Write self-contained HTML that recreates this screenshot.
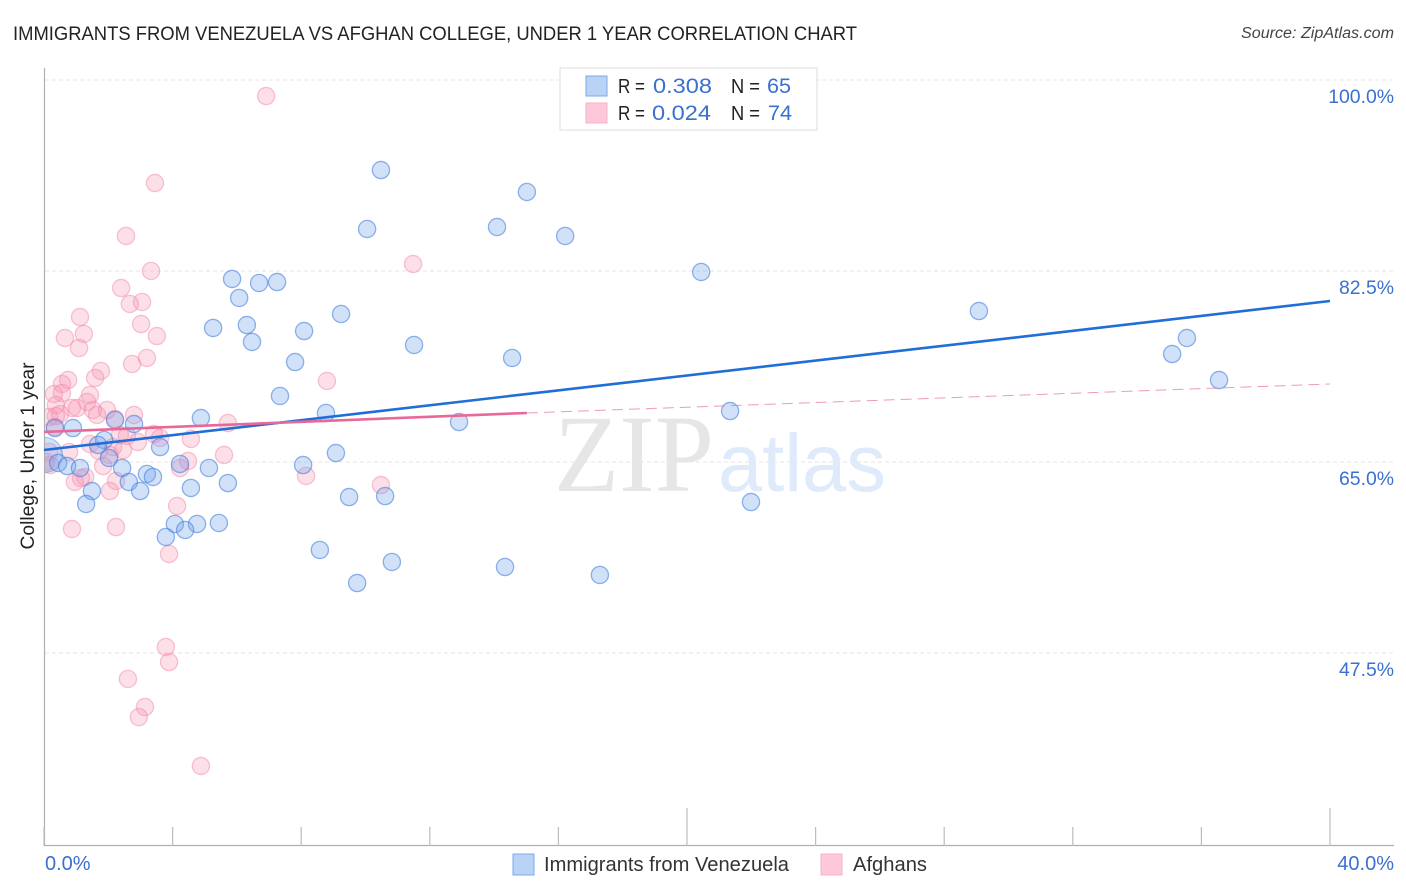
<!DOCTYPE html>
<html lang="en">
<head>
<meta charset="utf-8">
<title>Immigrants from Venezuela vs Afghan College, Under 1 Year Correlation Chart</title>
<style>
html,body{margin:0;padding:0;background:#fff;}
svg{display:block;font-family:"Liberation Sans",sans-serif;}
</style>
</head>
<body>
<svg id="chart" xmlns="http://www.w3.org/2000/svg" width="1406" height="892" viewBox="0 0 1406 892">
  <defs>
    <clipPath id="plot-clip"><rect x="45" y="68" width="1349" height="778"/></clipPath>
  </defs>
  <rect x="0" y="0" width="1406" height="892" fill="#ffffff"/>
  <text x="13" y="40" font-size="19.5" fill="#222222" textLength="844" lengthAdjust="spacingAndGlyphs">IMMIGRANTS FROM VENEZUELA VS AFGHAN COLLEGE, UNDER 1 YEAR CORRELATION CHART</text>
  <text x="1241" y="38" font-size="15.5" font-style="italic" fill="#444444" textLength="153" lengthAdjust="spacingAndGlyphs">Source: ZipAtlas.com</text>
  <g id="grid"></g>
  <g>
    <text x="554" y="491" font-family="'Liberation Serif',serif" font-size="110" fill="#e6e6e6" textLength="160" lengthAdjust="spacingAndGlyphs">ZIP</text>
    <text x="718" y="491" font-size="82" fill="#dfeafa" textLength="168" lengthAdjust="spacingAndGlyphs">atlas</text>
  </g>
  <g id="axes"></g>
  <g id="pink-points" clip-path="url(#plot-clip)"></g>
  <g id="blue-points" clip-path="url(#plot-clip)"></g>
  <g id="trends"></g>
  <text transform="translate(34,456) rotate(-90)" font-size="19" fill="#222222" text-anchor="middle" textLength="187" lengthAdjust="spacingAndGlyphs">College, Under 1 year</text>
  <g>
    <rect x="560" y="68" width="257" height="62" fill="#ffffff" stroke="#dddddd" stroke-width="1"/>
    <rect x="586" y="76" width="21" height="20" fill="#b9d3f6" stroke="#7fa9e6" stroke-width="1"/>
    <rect x="586" y="103" width="21" height="20" fill="#fdc9da" stroke="#f6b1c9" stroke-width="1"/>
    <g font-size="20" fill="#222222">
      <text x="618" y="93" textLength="27" lengthAdjust="spacingAndGlyphs">R =</text>
      <text x="653" y="93" fill="#3a70d0" font-size="21.5" textLength="59" lengthAdjust="spacingAndGlyphs">0.308</text>
      <text x="731" y="93" textLength="29" lengthAdjust="spacingAndGlyphs">N =</text>
      <text x="767" y="93" fill="#3a70d0" font-size="21.5" textLength="24" lengthAdjust="spacingAndGlyphs">65</text>
      <text x="618" y="120" textLength="27" lengthAdjust="spacingAndGlyphs">R =</text>
      <text x="652" y="120" fill="#3a70d0" font-size="21.5" textLength="59" lengthAdjust="spacingAndGlyphs">0.024</text>
      <text x="731" y="120" textLength="29" lengthAdjust="spacingAndGlyphs">N =</text>
      <text x="768" y="120" fill="#3a70d0" font-size="21.5" textLength="24" lengthAdjust="spacingAndGlyphs">74</text>
    </g>
  </g>
  <g>
    <rect x="513" y="854" width="21" height="21" fill="#b9d3f6" stroke="#7fa9e6" stroke-width="1"/>
    <text x="544" y="871" font-size="20" fill="#333333" textLength="245" lengthAdjust="spacingAndGlyphs">Immigrants from Venezuela</text>
    <rect x="821" y="854" width="21" height="21" fill="#fdc9da" stroke="#f6b1c9" stroke-width="1"/>
    <text x="853" y="871" font-size="20" fill="#333333" textLength="74" lengthAdjust="spacingAndGlyphs">Afghans</text>
  </g>
</svg>
<script>
const yTickValues = [100, 82.5, 65, 47.5];
const yTickLabels = ["100.0%", "82.5%", "65.0%", "47.5%"];
const xTickValues = [0, 4, 8, 12, 16, 20, 24, 28, 32, 36, 40];
const xEndValues = [0, 40];
const xEndLabels = ["0.0%", "40.0%"];

const venezuelaX = [10.48,15.02,10.05,14.09,16.21,20.44,5.85,6.69,7.25,6.07,29.08,9.24,6.31,5.26,8.09,6.47,11.51,35.55,35.09,7.81,14.56,36.55,7.34,8.77,21.34,4.88,2.21,2.80,12.91,0.90,0.34,3.61,9.08,1.87,1.68,2.02,8.06,0.03,0.44,0.72,1.12,2.43,4.23,5.13,3.20,3.39,5.72,2.64,4.57,1.49,2.99,9.49,10.61,1.31,21.99,4.07,4.76,5.44,3.79,4.39,8.58,10.82,14.34,9.74,17.29];
const venezuelaY = [91.75,89.74,86.35,86.53,85.71,82.41,81.77,81.40,81.49,80.03,78.83,78.56,77.55,77.28,77.00,76.00,75.72,76.36,74.89,74.16,74.53,72.51,71.05,69.49,69.67,69.03,68.85,68.48,68.66,68.11,68.11,66.37,65.82,67.02,66.56,65.37,64.72,65.65,64.91,64.63,64.45,64.45,64.82,64.45,63.90,63.63,63.07,63.17,62.62,62.34,62.34,61.79,61.88,61.15,61.33,59.32,59.32,59.41,58.13,58.77,56.94,55.84,55.38,53.91,54.65];
const venezuelaLargeBubbleIndex = 37;

const afghansX = [6.91,3.45,2.55,11.48,3.33,2.40,3.05,2.67,1.12,3.02,1.24,3.51,0.65,1.09,3.20,2.74,1.77,1.59,0.75,0.56,8.80,1.43,0.31,0.56,1.34,0.37,0.87,1.03,1.52,1.96,1.65,0.50,0.16,0.37,2.80,5.72,0.34,2.21,2.36,2.58,3.42,3.61,4.57,2.92,1.43,2.15,2.46,0.78,1.71,2.05,0.16,4.48,5.60,1.84,4.23,8.15,1.28,0.96,1.15,2.24,10.48,2.05,4.14,0.87,2.24,3.89,3.79,3.89,2.61,3.14,2.95,4.88,0.06,0.19];
const afghansY = [98.53,90.56,85.71,83.14,82.50,80.94,79.66,79.48,78.28,77.64,76.73,76.54,76.36,75.44,74.53,73.98,73.34,72.70,72.51,72.15,72.42,71.14,71.23,71.32,70.50,70.22,69.95,69.95,69.76,69.76,69.31,69.40,69.12,69.21,69.31,68.57,68.21,68.94,67.47,67.38,67.56,67.20,67.11,66.83,66.65,66.37,66.10,65.92,66.01,65.64,65.92,65.09,65.64,64.63,64.45,63.72,63.63,63.17,63.53,63.26,62.89,62.34,60.97,58.86,59.04,56.57,48.05,46.67,45.12,42.55,41.63,37.15,65.00,64.72];

const venezuelaTrendX = [0, 40];
const venezuelaTrendY = [66.10, 79.75];
const afghansSolidX = [0, 15.02];
const afghansSolidY = [67.75, 69.49];
const afghansDashedX = [15.02, 40];
const afghansDashedY = [69.49, 72.15];

const NS = "http://www.w3.org/2000/svg";
function xScale(v) { return 44 + v * (1286 / 40); }
function yScale(v) { return 80 + (100 - v) * (191 / 17.5); }
function make(tag, attrs, parent) {
  const el = document.createElementNS(NS, tag);
  for (const k in attrs) el.setAttribute(k, attrs[k]);
  parent.appendChild(el);
  return el;
}

const gridG = document.getElementById("grid");
const axesG = document.getElementById("axes");
const blueG = document.getElementById("blue-points");
const pinkG = document.getElementById("pink-points");
const trendG = document.getElementById("trends");

yTickValues.forEach(function (v, i) {
  const line = make("line", {x1: 45, x2: 1394, y1: yScale(v), y2: yScale(v), stroke: "#e6e6e6", "stroke-width": 1, "stroke-dasharray": "4 3"}, gridG);
  
  
  const label = make("text", {x: 1394, y: yScale(v) + 23, "text-anchor": "end", "font-size": 19.4, fill: "#3a70d0"}, axesG);
  label.textContent = yTickLabels[i];
  
  
});

const yAxis = make("line", {x1: 44.5, x2: 44.5, y1: 68, y2: 846, stroke: "#b0b0b0", "stroke-width": 1.2}, axesG);


const xAxis = make("line", {x1: 44, x2: 1394, y1: 845.5, y2: 845.5, stroke: "#b0b0b0", "stroke-width": 1.2}, axesG);



xTickValues.forEach(function (v) {
  const isTall = v === 20 || v === 40;
  const tick = make("line", {x1: xScale(v), x2: xScale(v), y1: isTall ? 808 : 827, y2: 846, stroke: "#bdbdbd", "stroke-width": 1.2}, axesG);
  
  
});

xEndValues.forEach(function (v, i) {
  const label = make("text", {x: i === 0 ? xScale(v) + 1 : 1394, y: 870, "text-anchor": i === 0 ? "start" : "end", "font-size": 20, fill: "#3a70d0"}, axesG);
  label.textContent = xEndLabels[i];
  
  
});

afghansX.forEach(function (v, i) {
  const c = make("circle", {cx: xScale(v), cy: yScale(afghansY[i]), r: 8.6, fill: "rgba(248,150,180,0.30)", stroke: "rgba(240,140,172,0.50)", "stroke-width": 1.3}, pinkG);
  
  
});

venezuelaX.forEach(function (v, i) {
  const big = i === venezuelaLargeBubbleIndex;
  const c = make("circle", {cx: xScale(v), cy: yScale(venezuelaY[i]), r: big ? 17.5 : 8.6, fill: "rgba(115,165,235,0.33)", stroke: "rgba(65,125,222,0.58)", "stroke-width": big ? 0.8 : 1.3}, blueG);
  
  
});

const blueTrend = make("line", {x1: xScale(venezuelaTrendX[0]), y1: yScale(venezuelaTrendY[0]), x2: xScale(venezuelaTrendX[1]), y2: yScale(venezuelaTrendY[1]), stroke: "#1f6fd6", "stroke-width": 2.6}, trendG);


const pinkDashed = make("line", {x1: xScale(afghansDashedX[0]), y1: yScale(afghansDashedY[0]), x2: xScale(afghansDashedX[1]), y2: yScale(afghansDashedY[1]), stroke: "#e8709c", "stroke-width": 1, "stroke-dasharray": "11 6", opacity: 0.7}, trendG);


const pinkSolid = make("line", {x1: xScale(afghansSolidX[0]), y1: yScale(afghansSolidY[0]), x2: xScale(afghansSolidX[1]), y2: yScale(afghansSolidY[1]), stroke: "#e8689a", "stroke-width": 2.6}, trendG);


</script>
</body>
</html>
